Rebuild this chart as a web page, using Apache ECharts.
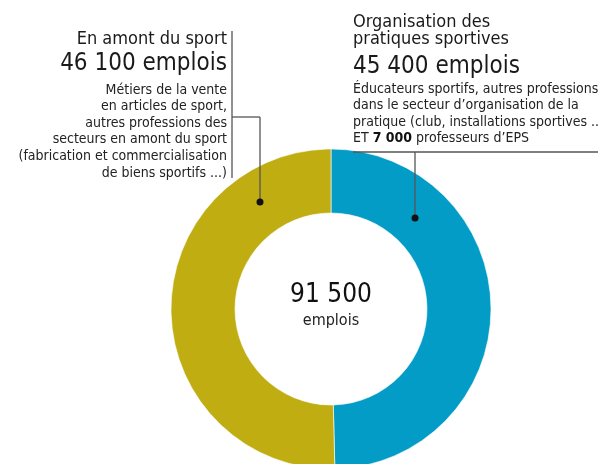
<!DOCTYPE html>
<html>
<head>
<meta charset="utf-8">
<script src="https://cdn.jsdelivr.net/npm/echarts@6/dist/echarts.min.js"></script>
<style>
  html, body { margin: 0; padding: 0; background: #fff; }
  #chart { width: 598px; height: 464px; }
</style>
</head>
<body>
<div id="chart"></div>
<script>
// données
var categories = ['Organisation des pratiques sportives', 'En amont du sport'];
var values = [45400, 46100];
var total = 91500;

var titreGauche = ['En amont du sport'];
var chiffreGauche = '46 100 emplois';
var detailGauche = [
    'Métiers de la vente',
    'en articles de sport,',
    'autres professions des',
    'secteurs en amont du sport',
    '(fabrication et commercialisation',
    'de biens sportifs ...)'
];

var titreDroite = ['Organisation des', 'pratiques sportives'];
var chiffreDroite = '45 400 emplois';
var detailDroite = [
    'Éducateurs sportifs, autres professions',
    'dans le secteur d\u2019organisation de la',
    'pratique (club, installations sportives ...)',
    'ET {b|7 000} professeurs d\u2019EPS'
];

var couleurs = ['#039CC6', '#C0AD12'];
var police = '"Liberation Sans Narrow", "DejaVu Sans Condensed", "Roboto Condensed", sans-serif';

var chart = echarts.init(document.getElementById('chart'));

// petit helper pour les textes
function texte(str, x, y, size, align, extra) {
    var st = {
        text: str,
        x: x,
        y: y,
        fill: '#1a1a1a',
        font: size + 'px ' + police,
        align: align,
        verticalAlign: 'middle'
    };
    if (extra) {
        for (var k in extra) st[k] = extra[k];
    }
    return { type: 'text', silent: true, z: 10, style: st };
}

function ligne(x1, y1, x2, y2) {
    return {
        type: 'line', silent: true, z: 10,
        shape: { x1: x1, y1: y1, x2: x2, y2: y2 },
        style: { stroke: '#555', lineWidth: 1.3 }
    };
}

function point(x, y) {
    return { type: 'circle', silent: true, z: 11, shape: { cx: x, cy: y, r: 3.5 }, style: { fill: '#111' } };
}

var elements = [];

// bloc de gauche (aligné à droite)
titreGauche.forEach(function (t, i) {
    elements.push(texte(t, 227, 39 + i * 17, 18, 'right'));
});
elements.push(texte(chiffreGauche, 227, 64, 24, 'right'));
detailGauche.forEach(function (t, i) {
    elements.push(texte(t, 227, 90 + i * 16.6, 14, 'right', { fill: '#222' }));
});
elements.push(ligne(232, 31, 232, 178));
elements.push(ligne(232, 117, 260, 117));
elements.push(ligne(260, 117, 260, 202));
elements.push(point(260, 202));

// bloc de droite
titreDroite.forEach(function (t, i) {
    elements.push(texte(t, 353, 22 + i * 17, 18, 'left'));
});
elements.push(texte(chiffreDroite, 353, 67, 24, 'left'));
detailDroite.forEach(function (t, i) {
    var el = texte(t, 353, 89.5 + i * 16.3, 14, 'left', { fill: '#222' });
    el.style.rich = {
        b: { font: 'bold 14px ' + police, fill: '#111' }
    };
    elements.push(el);
});
elements.push(ligne(353, 152, 598, 152));
elements.push(ligne(415, 152, 415, 218));
elements.push(point(415, 218));

// total au centre
elements.push(texte('91 500', 331, 295, 26, 'center', { fill: '#111' }));
elements.push(texte('emplois', 331, 321, 16, 'center', { fill: '#222' }));

var option = {
    animation: false,
    backgroundColor: '#fff',
    series: [{
        type: 'pie',
        center: [331, 309],
        radius: [96, 160],
        startAngle: 90,
        clockwise: true,
        silent: true,
        z: 2,
        label: { show: false },
        labelLine: { show: false },
        itemStyle: { borderColor: '#fff', borderWidth: 0.6 },
        data: categories.map(function (c, i) {
            return { name: c, value: values[i], itemStyle: { color: couleurs[i] } };
        })
    }],
    graphic: elements
};

chart.setOption(option);
</script>
</body>
</html>
